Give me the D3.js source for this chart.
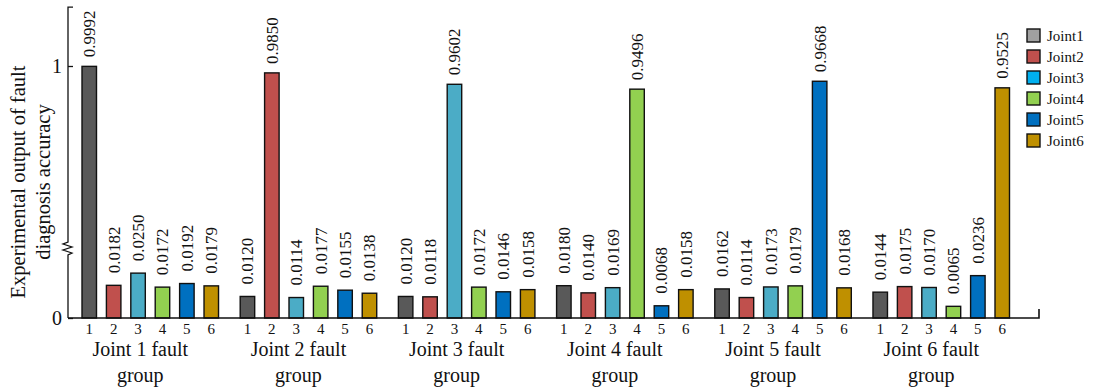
<!DOCTYPE html>
<html>
<head>
<meta charset="utf-8">
<script src="https://cdn.jsdelivr.net/npm/d3@7"></script>
<style>
  html, body { margin: 0; padding: 0; background: #fff; }
  svg { display: block; }
  text { font-family: "Liberation Serif", "Times New Roman", serif; fill: #111; }
</style>
</head>
<body>
<svg id="chart" width="1094" height="389"></svg>
<script>
// Fault groups along the x axis and the joint outputs within each group
const groups = ["Joint 1 fault", "Joint 2 fault", "Joint 3 fault", "Joint 4 fault", "Joint 5 fault", "Joint 6 fault"];
const joints = ["Joint1", "Joint2", "Joint3", "Joint4", "Joint5", "Joint6"];
const jointTicks = ["1", "2", "3", "4", "5", "6"];

// Output of each joint (rows: fault group, columns: joint)
const group1 = [0.9992, 0.0182, 0.0250, 0.0172, 0.0192, 0.0179];
const group2 = [0.0120, 0.9850, 0.0114, 0.0177, 0.0155, 0.0138];
const group3 = [0.0120, 0.0118, 0.9602, 0.0172, 0.0146, 0.0158];
const group4 = [0.0180, 0.0140, 0.0169, 0.9496, 0.0068, 0.0158];
const group5 = [0.0162, 0.0114, 0.0173, 0.0179, 0.9668, 0.0168];
const group6 = [0.0144, 0.0175, 0.0170, 0.0065, 0.0236, 0.9525];
const groupValues = [group1, group2, group3, group4, group5, group6];

const yTickValues = [0, 1];
const yTickLabels = ["0", "1"];

const barColors = ["#595959", "#c0504d", "#4bacc6", "#92d050", "#0070c0", "#bf9000"];
const legendColors = ["#a0a0a0", "#c0504d", "#00b0f0", "#92d050", "#0070c0", "#bf9000"];

const svg = d3.select("#chart");

// Broken y axis: a stretched lower segment for the small outputs, a compressed upper one near 1
const lowerTop = 0.039, upperBottom = 0.604, axisTop = 1.128;
const yBase = 318, yBreak = 248, yOne = 66;
const y = d3.scaleLinear()
  .domain([0, lowerTop, upperBottom, 1, axisTop])
  .range([yBase, yBreak, yBreak, yOne, yOne - (axisTop - 1) * (yBreak - yOne) / (1 - upperBottom)]);

const x0 = d3.scaleBand().domain(groups).range([82, 1009.5]).paddingInner(0.137).paddingOuter(0);
const x1 = d3.scaleBand().domain(joints).range([0, x0.bandwidth()]).paddingInner(0.406).paddingOuter(0);

const axisLeftX = 68, axisRightX = 1039;

// Bars
const cells = [];
groups.forEach((g, gi) => {
  groupValues[gi].forEach((v, ji) => cells.push({ group: g, joint: joints[ji], ji, value: v }));
});

svg.append("g").selectAll("rect").data(cells).join("rect")
  .attr("x", d => x0(d.group) + x1(d.joint))
  .attr("y", d => y(d.value))
  .attr("width", x1.bandwidth())
  .attr("height", d => y(0) - y(d.value))
  .attr("fill", d => barColors[d.ji])
  .attr("stroke", "#111")
  .attr("stroke-width", 1.4);

// Value labels, rotated above each bar
svg.append("g").selectAll("text").data(cells).join("text")
  .attr("transform", d => `translate(${x0(d.group) + x1(d.joint) + x1.bandwidth() / 2},${y(d.value) - (d.value < 0.5 ? 12 : 9)}) rotate(-90)`)
  .attr("dy", "0.35em")
  .attr("text-anchor", "start")
  .style("font-size", "17px")
  .text(d => d.value.toFixed(4));

// Y axis ticks and labels
const yAxis = d3.axisLeft(y)
  .tickValues(yTickValues)
  .tickFormat((d, i) => yTickLabels[i])
  .tickSizeInner(-5)
  .tickSizeOuter(0)
  .tickPadding(6);
const yg = svg.append("g").attr("transform", `translate(${axisLeftX},0)`).call(yAxis);
yg.select(".domain").remove();
yg.selectAll(".tick line").attr("stroke", "#111").attr("stroke-width", 1.3);
yg.selectAll(".tick text").style("font-size", "20px").style("font-family", "Liberation Serif, serif").attr("fill", "#111");

// Y axis line with a cap at the top and a zigzag marking the break
const yTopPx = y(axisTop);
const zig = [
  [axisLeftX + 5, yTopPx], [axisLeftX, yTopPx], [axisLeftX, yBreak - 6],
  [axisLeftX - 5, yBreak - 4], [axisLeftX + 4, yBreak - 1], [axisLeftX - 5, yBreak + 2],
  [axisLeftX + 4, yBreak + 5], [axisLeftX, yBreak + 7], [axisLeftX, yBase]
];
svg.append("path")
  .attr("d", d3.line()(zig))
  .attr("fill", "none").attr("stroke", "#111").attr("stroke-width", 1.3);

// X axis baseline with an end tick
svg.append("path")
  .attr("d", `M${axisLeftX},${yBase}H${axisRightX}V${yBase - 9}`)
  .attr("fill", "none").attr("stroke", "#111").attr("stroke-width", 1.6);

// Joint numbers under each bar
svg.append("g").selectAll("text").data(cells).join("text")
  .attr("x", d => x0(d.group) + x1(d.joint) + x1.bandwidth() / 2)
  .attr("y", 334)
  .attr("text-anchor", "middle")
  .style("font-size", "15px")
  .text(d => jointTicks[d.ji]);

// Group titles on two lines
const gl = svg.append("g").selectAll("text").data(groups).join("text")
  .attr("text-anchor", "middle")
  .style("font-size", "20px");
gl.append("tspan").attr("x", d => x0(d) + x0.bandwidth() / 2 - 10).attr("y", 356).text(d => d);
gl.append("tspan").attr("x", d => x0(d) + x0.bandwidth() / 2 - 10).attr("y", 382).text("group");

// Y axis title
const yt = svg.append("text")
  .attr("transform", "translate(25,182) rotate(-90)")
  .attr("text-anchor", "middle")
  .style("font-size", "20.5px");
yt.append("tspan").attr("x", 0).attr("y", 0).text("Experimental output of fault");
yt.append("tspan").attr("x", 0).attr("y", 25).text("diagnosis accuracy");

// Legend
const lg = svg.append("g").selectAll("g").data(joints).join("g")
  .attr("transform", (d, i) => `translate(1027,${29 + i * 21})`);
lg.append("rect")
  .attr("width", 13).attr("height", 13)
  .attr("fill", (d, i) => legendColors[i])
  .attr("stroke", "#111").attr("stroke-width", 1.4);
lg.append("text")
  .attr("x", 20).attr("y", 6.5).attr("dy", "0.35em")
  .style("font-size", "15px")
  .text(d => d);
</script>
</body>
</html>
